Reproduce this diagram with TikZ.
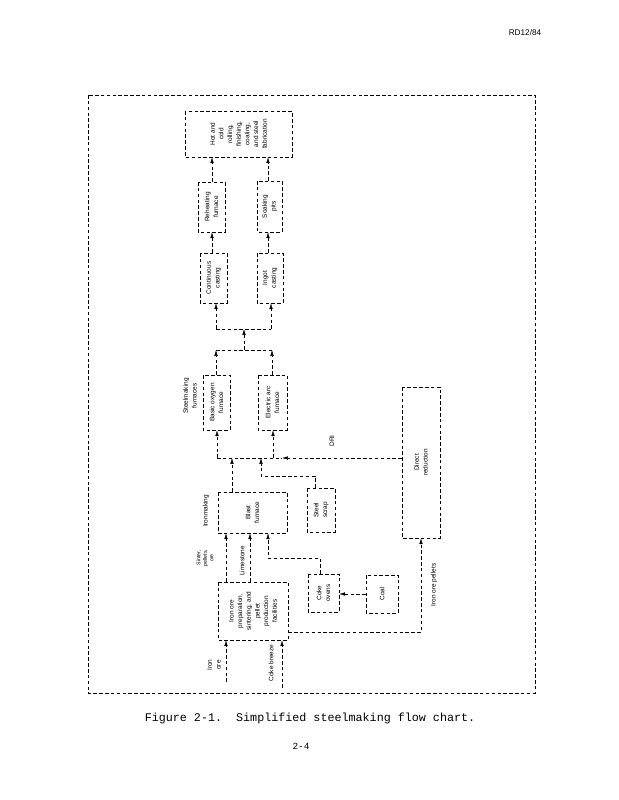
\documentclass[tikz,border=0pt]{standalone}
\usepackage{fontspec}
\setmainfont{Liberation Sans}
\setmonofont{Liberation Mono}
\usetikzlibrary{arrows.meta, positioning}

\tikzset{
  box/.style={draw, densely dashed, rotate=90, align=center, inner sep=1pt},
  boxsize/.style 2 args={minimum height=#1*0.3mm, minimum width=#2*0.3mm},
  lbl/.style={rotate=90, align=center, inner sep=0pt},
  flow/.style={densely dashed, -{Latex[length=5pt,width=3pt]}},
  link/.style={densely dashed}
}

\begin{document}
\begin{tikzpicture}[x=0.3mm, y=-0.3mm,
  every node/.style={font=\fontsize{5.5}{7.4}\selectfont}]
\useasboundingbox (0,0) rectangle (618,800);

% Page frame
\draw[link] (88,95) rectangle (535,693);
\node[font=\fontsize{7}{8}\selectfont] (hdr) at (525,33) {RD12/84};

% Finishing end
\node[box, boxsize={107}{46}] (finish) at (238.5,134) {Hot and\\cold\\rolling,\\finishing,\\coating,\\and steel\\fabrication};
\node[box, boxsize={27}{50}] (reheat) at (211.5,207) {Reheating\\furnace};
\node[box, boxsize={25}{51}] (soak) at (269.5,206.5) {Soaking\\pits};
\node[box, boxsize={27}{50}] (concast) at (213.5,278) {Continuous\\casting};
\node[box, boxsize={26}{50}] (ingot) at (270,278) {Ingot\\casting};

% Steelmaking
\node[box, boxsize={27}{55}] (bof) at (216.5,402.5) {Basic oxygen\\furnace};
\node[box, boxsize={29}{55}] (eaf) at (272.5,402.5) {Electric arc\\furnace};
\node[lbl] (steellbl) at (190,396) {Steelmaking\\furnaces};

% Ironmaking
\node[box, boxsize={69}{41}] (blast) at (252.5,512.5) {Blast\\furnace};
\node[lbl] (ironlbl) at (206,511) {Ironmaking};
\node[box, boxsize={28}{44}] (scrap) at (321,510) {Steel\\scrap};
\node[box, boxsize={38}{151}] (dr) at (421,462.5) {Direct\\reduction};
\node[lbl] (drilbl) at (332,441) {DRI};

% Raw materials
\node[box, boxsize={70}{58}] (prep) at (253,611) {Iron ore\\preparation,\\sintering, and\\pellet\\production\\facilities};
\node[box, boxsize={31}{38}] (coke) at (323.5,593) {Coke\\ovens};
\node[box, boxsize={32}{38}] (coal) at (382,594) {Coal};
\node[lbl, font=\fontsize{4.5}{5.5}\selectfont] (burden) at (205,558) {Sinter,\\pellets,\\ore};
\node[lbl] (fluxlbl) at (242,561) {Limestone};
\node[lbl] (orelbl) at (214,665) {Iron\\ore};
\node[lbl] (breezelbl) at (271,663) {Coke breeze};
\node[lbl] (pelletlbl) at (434,585) {Iron ore pellets};
\coordinate (orein) at (226,682);
\coordinate (breezein) at (282,688);

% Raw materials to ironmaking
\draw[flow] (orein) -- (226,0 |- prep.west);
\draw[flow] (breezein) -- (282,0 |- prep.west);
\foreach \xx in {226,250}
  \draw[flow] (\xx,0 |- prep.east) -- (\xx,0 |- blast.west);
\draw[flow] (coal.north) -- (coal.north -| coke.south);
\draw[flow] (320,0 |- coke.east) -- (320,558) -| (268,0 |- blast.west);
\draw[flow] (prep.south |- 0,632) -| (dr.west);

% Into the steelmaking furnaces
\draw[flow] (232,0 |- blast.east) -- (232,458);
\draw[flow] (315,0 |- scrap.east) -- (315,476) -| (261,458);
\draw[flow] (dr.north |- 0,458) -- (282,458);
\draw[link] (217,458) -- (282,458);
\draw[flow] (217,458) -- (217,0 |- bof.west);
\draw[flow] (273,458) -- (273,0 |- eaf.west);

% Casting and finishing
\draw[flow] (216,0 |- bof.east) -- (216,350);
\draw[flow] (272,0 |- eaf.east) -- (272,350);
\draw[link] (216,350) -- (272,350);
\draw[flow] (244,350) -- (244,329);
\draw[link] (216,329) -- (271,329);
\draw[flow] (216,329) -- (216,0 |- concast.west);
\draw[flow] (271,329) -- (271,0 |- ingot.west);
\draw[flow] (212,0 |- concast.east) -- (212,0 |- reheat.west);
\draw[flow] (268,0 |- ingot.east) -- (268,0 |- soak.west);
\draw[flow] (212,0 |- reheat.east) -- (212,0 |- finish.west);
\draw[flow] (268,0 |- soak.east) -- (268,0 |- finish.west);

% Caption
\node[font=\ttfamily\fontsize{10}{12}\selectfont] (caption) at (310,718) {Figure 2-1.\ \ Simplified steelmaking flow chart.};
\node[font=\ttfamily\fontsize{8}{10}\selectfont] (pagenum) at (301,746) {2-4};
\end{tikzpicture}
\end{document}
